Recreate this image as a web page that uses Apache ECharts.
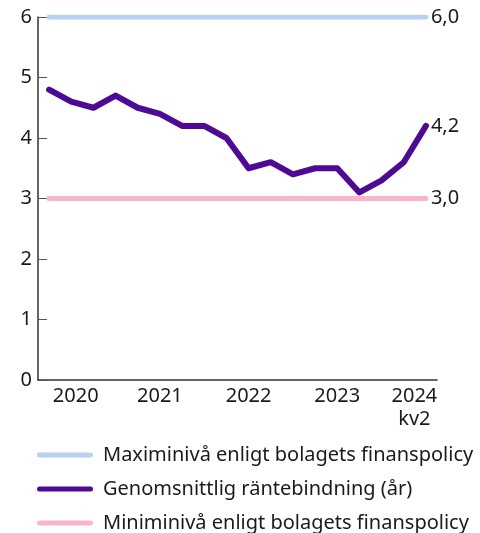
<!DOCTYPE html>
<html>
<head>
<meta charset="utf-8">
<script src="https://cdn.jsdelivr.net/npm/echarts@6/dist/echarts.min.js"></script>
<style>html,body{margin:0;padding:0;background:#fff}#c{width:480px;height:533px}</style>
</head>
<body>
<div id="c"></div>
<script>
const categories = ['2020 kv1','2020 kv2','2020 kv3','2020 kv4','2021 kv1','2021 kv2','2021 kv3','2021 kv4','2022 kv1','2022 kv2','2022 kv3','2022 kv4','2023 kv1','2023 kv2','2023 kv3','2023 kv4','2024 kv1','2024 kv2'];
const avgValues = [4.8,4.6,4.5,4.7,4.5,4.4,4.2,4.2,4.0,3.5,3.6,3.4,3.5,3.5,3.1,3.3,3.6,4.2];
const maxValues = categories.map(() => 6.0);
const minValues = categories.map(() => 3.0);
const xTickLabels = {1:'2020',5:'2021',9:'2022',13:'2023',17:'2024\nkv2'};
const yTicks = [0,1,2,3,4,5,6];
const seriesNames = ['Maximinivå enligt bolagets finanspolicy','Genomsnittlig räntebindning (år)','Miniminivå enligt bolagets finanspolicy'];

const FONT = 'Noto Sans';
const TXT = '#1a1a1a';
const AX = '#333333';
const FS = 20;
const fmt = v => v.toFixed(1).replace('.', ',');
const icon = 'path://M2.5,0 h51 a2.5,2.5 0 0 1 0,5 h-51 a2.5,2.5 0 0 1 0,-5 z';

function lineSeries(name, data, color, width) {
  return {
    name, type: 'line', data, symbol: 'none', silent: true,
    lineStyle: { color, width, cap: 'round', join: 'round' },
    itemStyle: { color },
    endLabel: { show: true, formatter: p => fmt(p.value), color: TXT, fontFamily: FONT, fontSize: FS, distance: 5 }
  };
}

const chart = echarts.init(document.getElementById('c'));
chart.setOption({
  animation: false,
  textStyle: { fontFamily: FONT },
  grid: { left: 38, right: 43, top: 17, bottom: 153, containLabel: false },
  legend: {
    orient: 'vertical', left: 32, top: 440, height: 110, itemWidth: 56, itemHeight: 5, itemGap: 14,
    icon, data: seriesNames,
    textStyle: { color: TXT, fontFamily: FONT, fontSize: FS, lineHeight: 20, padding: [0,0,0,5] }
  },
  xAxis: {
    type: 'category', data: categories, boundaryGap: true,
    axisLine: { lineStyle: { color: AX, width: 1.5 } },
    axisTick: { show: false },
    axisLabel: {
      interval: 0, margin: 5, color: TXT, fontFamily: FONT, fontSize: FS, lineHeight: 23,
      formatter: (v, i) => {
        const t = xTickLabels[i];
        if (!t) return '';
        if (i === 17) return t.split('\n').map(s => '{r|' + s + '}').join('\n');
        if (i === 1) return '{l|' + t + '}';
        return t;
      },
      rich: {
        r: { padding: [0, 23, 0, 0], fontSize: FS, fontFamily: FONT, color: TXT, lineHeight: 23 },
        l: { padding: [0, 0, 0, 9], fontSize: FS, fontFamily: FONT, color: TXT, lineHeight: 23 }
      }
    }
  },
  yAxis: {
    type: 'value', min: yTicks[0], max: yTicks[yTicks.length - 1], interval: 1,
    axisLine: { show: true, lineStyle: { color: AX, width: 1.5 } },
    axisTick: { show: true, inside: true, length: 9, lineStyle: { color: '#555555', width: 1 } },
    splitLine: { show: false },
    axisLabel: { margin: 6, color: TXT, fontFamily: FONT, fontSize: FS }
  },
  series: [
    lineSeries(seriesNames[0], maxValues, '#b8d1f3', 5),
    lineSeries(seriesNames[1], avgValues, '#4e0a96', 6),
    lineSeries(seriesNames[2], minValues, '#f9b5c8', 5)
  ]
});
</script>
</body>
</html>
